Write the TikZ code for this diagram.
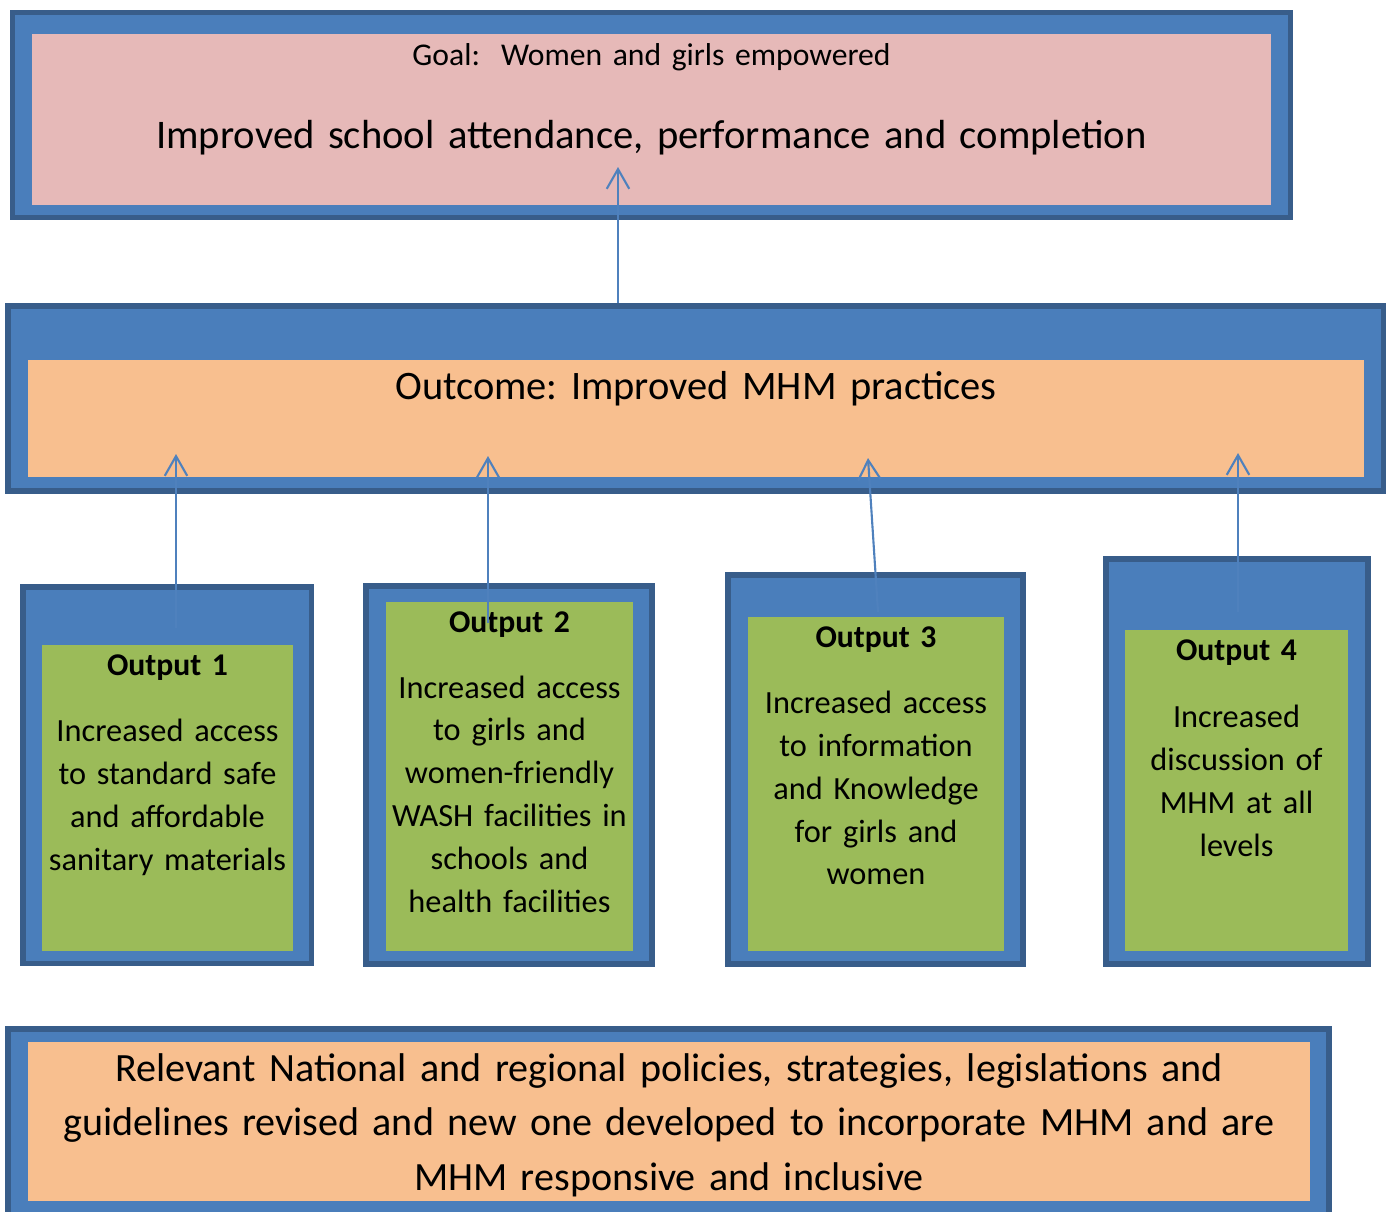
\documentclass[tikz,border=0pt]{standalone}
\usepackage{fontspec}
\setmainfont{Carlito}
\usetikzlibrary{arrows.meta,fit}

\definecolor{frameblue}{HTML}{4A7EBB}
\definecolor{framedark}{HTML}{385D8A}
\definecolor{linkblue}{HTML}{4F81BD}
\definecolor{goalpink}{HTML}{E6B9B8}
\definecolor{outorange}{HTML}{F8BF8F}
\definecolor{outgreen}{HTML}{9BBB59}

\tikzset{
  frame/.style={draw=framedark,fill=frameblue,line width=1.6pt,inner sep=0pt},
  panel/.style={fill=#1,inner sep=0pt},
  txt/.style={anchor=base,inner sep=0pt,align=center,text width=8cm},
  link/.style={linkblue,line width=0.6pt,-{Straight Barb[length=5.6pt,width=6.4pt]}},
}

\frenchspacing

\begin{document}
\begin{tikzpicture}[x=0.01cm,y=-0.01cm]
  \useasboundingbox (0,0) rectangle (1389,1211);
  \clip (0,0) rectangle (1389,1211);

  % goal
  \node [frame,fit={(12.5,12.5) (1290.5,217.5)}] (goal) {};
  \node [panel=goalpink,fit={(32,34) (1271,205)}] (goalin) {};
  \node [txt,font=\fontsize{9}{11}\selectfont] (goaltxt) at (651.5,65) {Goal:~ Women and girls empowered};
  \node [txt,text width=13cm,font=\fontsize{11.55}{14}\selectfont] (goalmain) at (651.5,148) {Improved school attendance, performance and completion};

  % outcome
  \node [frame,fit={(8,306) (1383.5,491)}] (outcome) {};
  \node [panel=outorange,fit={(28,360) (1364,477)}] (outcomein) {};
  \node [txt,font=\fontsize{11.5}{14}\selectfont] (outcometxt) at (696,399) {Outcome: Improved MHM practices};

  % outputs
  \node [frame,fit={(23,587) (311.5,963.5)}] (out1) {};
  \node [panel=outgreen,fit={(42,645) (293,951)}] (out1in) {};
  \node [frame,fit={(366,586) (652,964)}] (out2) {};
  \node [panel=outgreen,fit={(386,602) (633,951)}] (out2in) {};
  \node [frame,fit={(728,575) (1023,964)}] (out3) {};
  \node [panel=outgreen,fit={(748,617) (1004,951)}] (out3in) {};
  \node [frame,fit={(1106,559) (1368,964)}] (out4) {};
  \node [panel=outgreen,fit={(1125,630) (1348,951)}] (out4in) {};

  \begin{scope}[every node/.append style={font=\fontsize{9.2}{12.2}\selectfont}]
    \node [txt,font=\bfseries\fontsize{9}{12}\selectfont] (out1ttl) at (167.5,675) {Output 1};
    \node [txt] (out1txt) at (167.5,741.7) {Increased access\\to standard safe\\and affordable\\sanitary materials};
    \node [txt,font=\bfseries\fontsize{9}{12}\selectfont] (out2ttl) at (509.5,632.7) {Output 2};
    \node [txt] (out2txt) at (509.5,698) {Increased access\\to girls and\\women-friendly\\WASH facilities in\\schools and\\health facilities};
    \node [txt,font=\bfseries\fontsize{9}{12}\selectfont] (out3ttl) at (876,647.7) {Output 3};
    \node [txt] (out3txt) at (876,713.3) {Increased access\\to information\\and Knowledge\\for girls and\\women};
    \node [txt,font=\bfseries\fontsize{9}{12}\selectfont] (out4ttl) at (1236.5,660) {Output 4};
    \node [txt] (out4txt) at (1236.5,727.7) {Increased\\discussion of\\MHM at all\\levels};
  \end{scope}

  % policies
  \node [frame,fit={(8,1029) (1329,1230)}] (policy) {};
  \node [panel=outorange,fit={(28,1042) (1310,1201)}] (policyin) {};
  \node [txt,text width=13cm,font=\fontsize{11.4}{15.4}\selectfont] (policytxt) at (669,1081.7) {Relevant National and regional policies, strategies, legislations and\\guidelines revised and new one developed to incorporate MHM and are\\MHM responsive and inclusive};

  % links
  \coordinate (t0) at (618,303);   \coordinate (h0) at (618,167);
  \coordinate (t1) at (176,628);   \coordinate (h1) at (176,454);
  \coordinate (t2) at (488,623);   \coordinate (h2) at (488,456);
  \coordinate (t3) at (878,612);   \coordinate (h3) at (868,458);
  \coordinate (t4) at (1238,612);  \coordinate (h4) at (1238,453);
  \foreach \i in {0,...,4}
    \draw [link] (t\i) -- (h\i);
\end{tikzpicture}
\end{document}
